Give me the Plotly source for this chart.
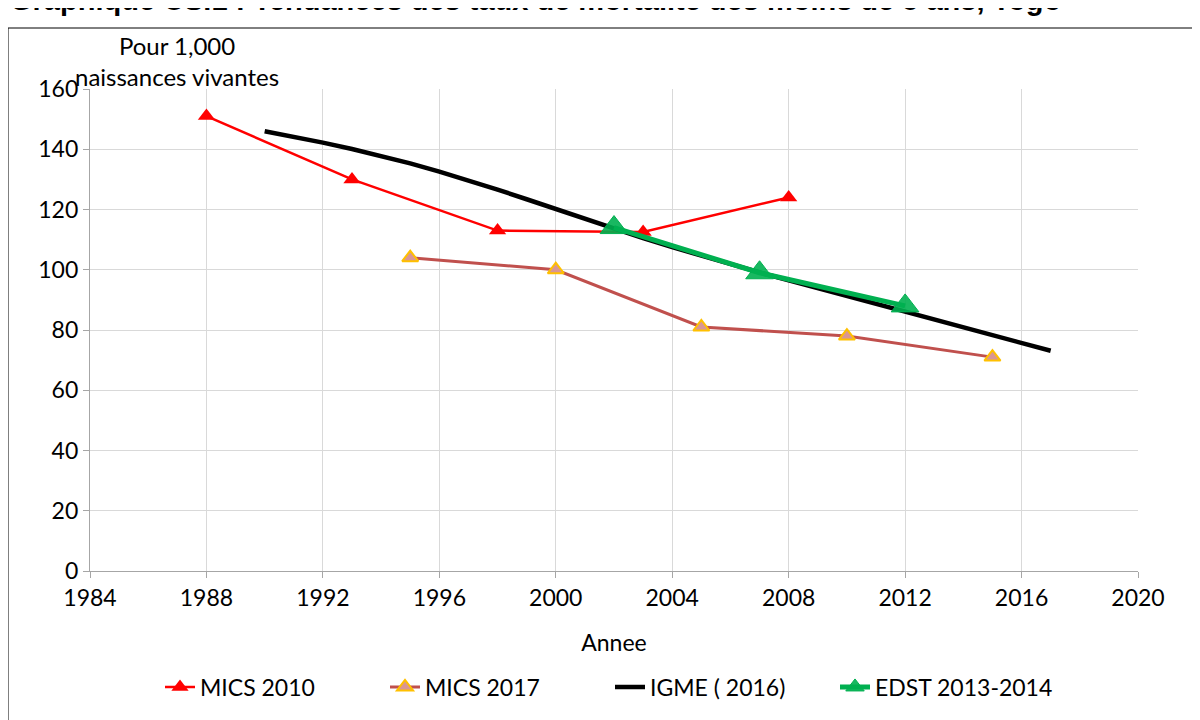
import plotly.graph_objects as go

mics2010_years = [1988, 1993, 1998, 2003, 2008]
mics2010_vals = [151, 130, 113, 112.5, 124]

mics2017_years = [1995, 2000, 2005, 2010, 2015]
mics2017_vals = [104, 100, 81, 78, 71]

igme_years = list(range(1990, 2018))
igme_vals = [146, 144.2, 142.2, 140.1, 137.8, 135.3, 132.6, 129.7, 126.6, 123.4, 120.1, 116.8,
             113.6, 110.5, 107.5, 104.6, 101.8, 99.1, 96.5, 93.9, 91.3, 88.7, 86.1, 83.5,
             80.9, 78.3, 75.7, 73.1]

edst_years = [2002, 2007, 2012]
edst_vals = [114, 99, 88]

x_ticks = list(range(1984, 2021, 4))
y_ticks = list(range(0, 161, 20))

FONT = "Lato"
FS = 23

fig = go.Figure()
fig.add_trace(go.Scatter(x=mics2010_years, y=mics2010_vals, name="MICS 2010", mode="lines+markers",
                         line=dict(color="#FF0000", width=2.5),
                         marker=dict(symbol="triangle-up", size=15, color="#FF0000")))
fig.add_trace(go.Scatter(x=mics2017_years, y=mics2017_vals, name="MICS 2017", mode="lines+markers",
                         line=dict(color="#C0504D", width=3),
                         marker=dict(symbol="triangle-up", size=14, color="#D99694",
                                     line=dict(color="#FFC000", width=2))))
fig.add_trace(go.Scatter(x=igme_years, y=igme_vals, name="IGME ( 2016)", mode="lines",
                         line=dict(color="#000000", width=4.5)))
fig.add_trace(go.Scatter(x=edst_years, y=edst_vals, name="EDST 2013-2014", mode="lines+markers",
                         line=dict(color="#00B050", width=5),
                         marker=dict(symbol="triangle-up", size=24, color="rgba(0,176,80,0.9)",
                                     line=dict(color="#00B050", width=1))))

OFF = 8  # page offset of the figure
L, T = 90 - OFF, 89 - OFF
pw, ph = 1048, 482
W, H = 1200, 720
R = W - L - pw
B = H - T - ph

def px(xs):
    return (xs - OFF - L) / pw

def py(ys):
    return 1 - (ys - OFF - T) / ph

fig.update_layout(
    width=W, height=H,
    margin=dict(l=L, r=R, t=T, b=B),
    paper_bgcolor="white", plot_bgcolor="white",
    font=dict(family=FONT, size=FS, color="#000000"),
    showlegend=True,
    legend=dict(orientation="h", x=px(610), xanchor="center", y=py(687), yanchor="middle",
                font=dict(size=FS, family=FONT), traceorder="normal",
                entrywidth=180, entrywidthmode="pixels"),
    xaxis=dict(range=[1984, 2020], tickvals=x_ticks, ticktext=[str(v) for v in x_ticks],
               showgrid=True, gridcolor="#D9D9D9", gridwidth=1.3,
               showline=True, linecolor="#A6A6A6", linewidth=1.3,
               ticks="outside", ticklen=6, tickcolor="#A6A6A6",
               tickfont=dict(size=FS, family=FONT),
               title=dict(text="Annee", font=dict(size=FS, family=FONT), standoff=25),
               zeroline=False),
    yaxis=dict(range=[0, 160], tickvals=y_ticks, showgrid=True, gridcolor="#D9D9D9", gridwidth=1.3,
               showline=True, linecolor="#A6A6A6", linewidth=1.3,
               ticks="outside", ticklen=6, tickcolor="#A6A6A6",
               tickfont=dict(size=FS, family=FONT), zeroline=False),
)

fig.add_annotation(text="Pour 1,000<br>naissances vivantes", xref="paper", yref="paper",
                   x=px(177), y=py(61), xanchor="center", yanchor="middle", showarrow=False,
                   font=dict(size=24, family=FONT), align="center")

fig.add_annotation(text="<b>Graphique CS.1 : Tendances des taux de mortalité des moins de 5 ans, Togo</b>",
                   xref="paper", yref="paper", x=px(8), y=py(18), xanchor="left", yanchor="bottom",
                   showarrow=False, font=dict(size=29, family="Liberation Sans"))

fig.add_shape(type="rect", xref="paper", yref="paper", x0=px(8), y0=py(760), x1=px(1240), y1=py(28),
              line=dict(color="#000000", width=1), fillcolor="rgba(0,0,0,0)", layer="below")

fig.write_html("out.html")
